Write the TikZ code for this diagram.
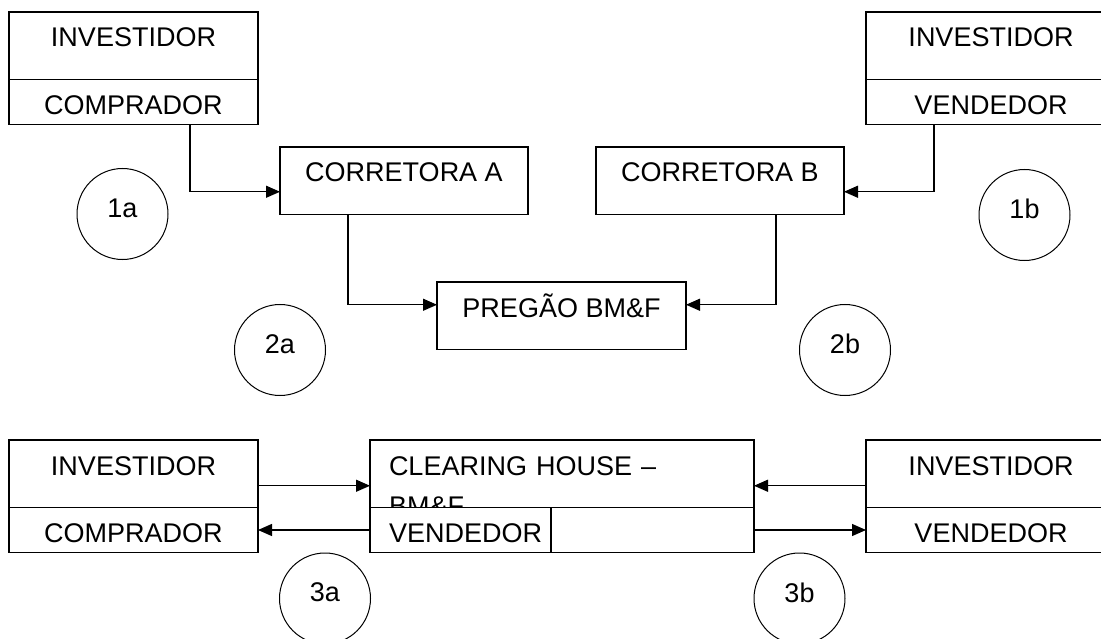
\documentclass[tikz,border=0pt]{standalone}
\usepackage{fontspec}
\setmainfont{Liberation Sans}
\usetikzlibrary{arrows.meta,positioning}
\tikzset{
  box/.style={draw, rectangle, line width=1.3pt, inner sep=0pt, outer sep=0pt, font=\fontsize{27pt}{40pt}\selectfont},
  tallbox/.style={box, text height=35pt, text depth=32.5pt},
  shortbox/.style={box, text height=35pt, text depth=10pt},
  numcircle/.style={circle, draw, line width=1pt, minimum size=91pt, inner sep=0pt, text depth=12pt, font=\fontsize{27pt}{32pt}\selectfont},
  flow/.style={-{Triangle[length=14pt,width=12pt]}, line width=1.3pt}
}
\begin{document}
\begin{tikzpicture}[x=1pt,y=-1pt]
\useasboundingbox (0,0) rectangle (1101,639);
\clip (0,0) rectangle (1101,639);

\node[tallbox, minimum width=249pt, anchor=north west] (i1) at (9,12) {INVESTIDOR};
\node[shortbox, minimum width=249pt, anchor=north west] (c1) at (i1.south west) {COMPRADOR};
\node[tallbox, minimum width=250pt, anchor=north west] (i2) at (866,12) {INVESTIDOR};
\node[shortbox, minimum width=250pt, anchor=north west] (v2) at (i2.south west) {VENDEDOR};

\node[tallbox, minimum width=248pt, anchor=north west] (ca) at (280,147) {CORRETORA A};
\node[tallbox, minimum width=248pt, anchor=north west] (cb) at (596,147) {CORRETORA B};
\node[tallbox, minimum width=249pt, anchor=north west] (pg) at (437,282) {PREGÃO BM\&F};

\node[tallbox, minimum width=249pt, anchor=north west] (i3) at (9,440) {INVESTIDOR};
\node[shortbox, minimum width=249pt, anchor=north west] (c3) at (i3.south west) {COMPRADOR};
\node[tallbox, inner xsep=19pt, text width=346pt, align=left, anchor=north west] (ch) at (370,440) {CLEARING HOUSE –};
\begin{scope}
\clip (ch.north west) rectangle (ch.south east);
\node[font=\fontsize{27pt}{40pt}\selectfont, inner sep=0pt, anchor=base west] (bm) at ([xshift=19pt,yshift=-40pt]ch.base west) {BM\&F};
\end{scope}
\node[shortbox, inner xsep=19pt, text width=346pt, align=left, anchor=north west] (vd) at (ch.south west) {VENDEDOR};
\draw[line width=1.3pt] ([xshift=181pt]vd.north west) -- ([xshift=181pt]vd.south west);
\node[tallbox, minimum width=250pt, anchor=north west] (i4) at (866,440) {INVESTIDOR};
\node[shortbox, minimum width=250pt, anchor=north west] (v4) at (i4.south west) {VENDEDOR};

\node[numcircle] (n1a) at (122.5,214) {1a};
\node[numcircle] (n1b) at (1024.5,215) {1b};
\node[numcircle] (n2a) at (280,350) {2a};
\node[numcircle] (n2b) at (845,350) {2b};
\node[numcircle] (n3a) at (325,598.5) {3a};
\node[numcircle] (n3b) at (799.5,598.5) {3b};

\draw[flow] ([xshift=-68pt]c1.south east) |- ([yshift=-11pt]ca.west);
\draw[flow] ([xshift=68pt]ca.south west) |- ([yshift=11pt]pg.west);
\draw[flow] ([xshift=68pt]v2.south west) |- ([yshift=-11pt]cb.east);
\draw[flow] ([xshift=-68pt]cb.south east) |- ([yshift=11pt]pg.east);

\draw[flow] ([yshift=-12pt]i3.east) -- ([yshift=-12pt]ch.west);
\draw[flow] (vd.west) -- (c3.east);
\draw[flow] ([yshift=-12pt]i4.west) -- ([yshift=-12pt]ch.east);
\draw[flow] (vd.east) -- (v4.west);
\end{tikzpicture}
\end{document}
